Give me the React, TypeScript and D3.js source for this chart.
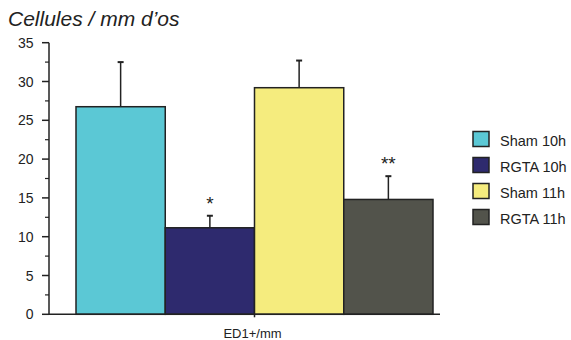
import React from "react";
import * as d3 from "d3";

const groups = ["Sham 10h", "RGTA 10h", "Sham 11h", "RGTA 11h"];
const means = [26.75, 11.15, 29.2, 14.8];
const errors = [5.75, 1.55, 3.5, 3.0];
const stars = ["", "*", "", "**"];
const colors = ["#5BC8D5", "#2E2A6E", "#F5EC7E", "#52534B"];
const yTicks = [0, 5, 10, 15, 20, 25, 30, 35];
const minorTicks = [2.5, 7.5, 12.5, 17.5, 22.5, 27.5, 32.5];
const category = "ED1+/mm";
const title = "Cellules / mm d\u2019os";

export default function App() {
  const W = 571, H = 340;
  const axisX = 49, axisRight = 440;
  const y = d3.scaleLinear().domain([0, 35]).range([314.3, 42.7]);
  const x = d3.scaleBand().domain(groups).range([76, 433]).padding(0);
  const bw = x.bandwidth();
  const font = "Arial, 'Liberation Sans', sans-serif";
  return (
    <svg width={W} height={H} style={{ position: "absolute", left: 0, top: 0 }} fontFamily={font}>
      <rect width={W} height={H} fill="#fff" />
      <text x={8} y={26} fontSize={21} fontStyle="italic" fill="#222">{title}</text>
      {groups.map((g, i) => {
        const cx = (x(g) as number) + bw / 2;
        return (
          <g key={g}>
            <line x1={cx} x2={cx} y1={y(means[i])} y2={y(means[i] + errors[i])} stroke="#222" strokeWidth={1.5} />
            <line x1={cx - 3} x2={cx + 3} y1={y(means[i] + errors[i])} y2={y(means[i] + errors[i])} stroke="#222" strokeWidth={2} />
            <rect x={x(g)} y={y(means[i])} width={bw} height={y(0) - y(means[i])} fill={colors[i]} stroke="#222" strokeWidth={1.5} />
            {stars[i] && (
              <text x={cx} y={y(means[i] + errors[i]) - 6} textAnchor="middle" fontSize={19} fill="#222">{stars[i]}</text>
            )}
          </g>
        );
      })}
      <line x1={axisX} x2={axisX} y1={y(35)} y2={y(0)} stroke="#222" strokeWidth={1.5} />
      <line x1={axisX} x2={axisRight} y1={y(0)} y2={y(0)} stroke="#222" strokeWidth={1.5} />
      <line x1={254.5} x2={254.5} y1={y(0)} y2={y(0) + 3} stroke="#222" strokeWidth={1.5} />
      {yTicks.map((t) => (
        <g key={t}>
          <line x1={axisX - 7} x2={axisX} y1={y(t)} y2={y(t)} stroke="#222" strokeWidth={1.5} />
          <text x={33.5} y={y(t) + 5} textAnchor="end" fontSize={14} fill="#222">{t}</text>
        </g>
      ))}
      {minorTicks.map((t) => (
        <line key={t} x1={axisX - 4} x2={axisX} y1={y(t)} y2={y(t)} stroke="#222" strokeWidth={1.2} />
      ))}
      <text x={252.5} y={338} textAnchor="middle" fontSize={13} fill="#222">{category}</text>
      {groups.map((g, i) => (
        <g key={g}>
          <rect x={473} y={131.5 + i * 26} width={16} height={15} fill={colors[i]} stroke="#222" strokeWidth={1.5} />
          <text x={500} y={145.5 + i * 26} fontSize={14.5} fill="#222">{g}</text>
        </g>
      ))}
    </svg>
  );
}
